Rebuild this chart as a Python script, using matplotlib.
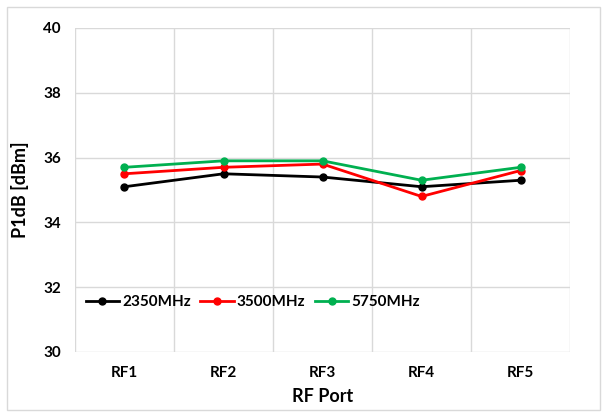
import numpy as np
import matplotlib.pyplot as plt
from matplotlib.patches import Rectangle

ports = ["RF1", "RF2", "RF3", "RF4", "RF5"]
p_2350 = [35.1, 35.5, 35.4, 35.1, 35.3]
p_3500 = [35.5, 35.7, 35.8, 34.8, 35.6]
p_5750 = [35.7, 35.9, 35.9, 35.3, 35.7]

plt.rcParams['font.family'] = ['Lato', 'DejaVu Sans']
plt.rcParams['font.weight'] = 'bold'

fig = plt.figure(figsize=(6.13, 4.17), dpi=100)
ax = fig.add_axes([0.1223, 0.1559, 0.8077, 0.777])

x = np.arange(len(ports))
ax.plot(x, p_2350, color='black', lw=2, marker='o', ms=5, label='2350MHz')
ax.plot(x, p_3500, color='#FF0000', lw=2, marker='o', ms=5, label='3500MHz')
ax.plot(x, p_5750, color='#00B050', lw=2, marker='o', ms=5, label='5750MHz')

ax.set_xlim(-0.5, len(ports) - 0.5)
ax.set_ylim(30, 40)
ax.set_yticks(np.arange(30, 41, 2))
ax.set_xticks(x)
ax.set_xticklabels(ports)
ax.set_xticks(np.arange(-0.5, len(ports), 1), minor=True)
ax.tick_params(which='both', length=0, labelsize=11)
ax.tick_params(axis='x', pad=10)
ax.tick_params(axis='y', pad=10)
ax.grid(True, which='major', axis='y', color='#D9D9D9', lw=1)
ax.grid(True, which='minor', axis='x', color='#D9D9D9', lw=1)
ax.set_axisbelow(True)
for s in ax.spines.values():
    s.set_visible(False)

ax.set_xlabel('RF Port', fontsize=13, fontweight='bold', labelpad=6)
ax.set_ylabel('P1dB [dBm]', fontsize=13, fontweight='bold', labelpad=10)

ax.legend(loc='lower left', bbox_to_anchor=(0.0, 0.1), ncol=3, frameon=False,
          fontsize=11, handlelength=2.2, handletextpad=0.2, columnspacing=0.6,
          borderaxespad=0.3)

fig.patches.append(Rectangle((0.012, 0.017), 0.966, 0.966, transform=fig.transFigure,
                             fill=False, edgecolor='#D9D9D9', lw=1))

fig.savefig('out.png', dpi=100)
